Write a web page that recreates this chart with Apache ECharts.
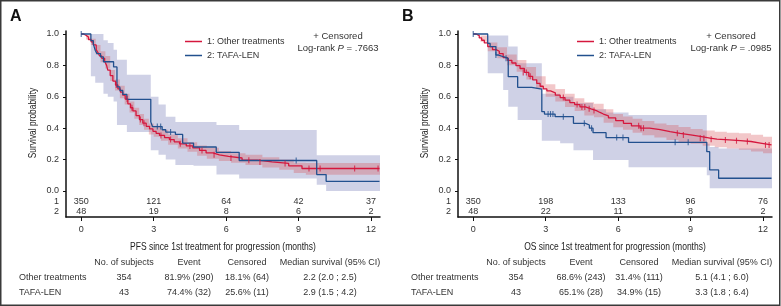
<!DOCTYPE html>
<html>
<head>
<meta charset="utf-8">
<script src="https://cdn.jsdelivr.net/npm/echarts@6/dist/echarts.min.js"></script>
<style>
html, body { margin: 0; padding: 0; background: #fff; }
#chart { width: 781px; height: 306px; }
</style>
</head>
<body>
<div id="chart"></div>
<script>
// values
var xTicks = [0, 3, 6, 9, 12];
var yTicks = [0, 0.2, 0.4, 0.6, 0.8, 1.0];
var tEnd = 12.35;

var riskA1 = [350, 121, 64, 42, 37];
var riskA2 = [48, 19, 8, 6, 2];
var riskB1 = [350, 198, 133, 96, 76];
var riskB2 = [48, 22, 11, 8, 2];

// panel A: PFS, [time, survival]
var pfsOther = [[0,1],[0.1,0.99],[0.21,0.98],[0.3,0.965],[0.41,0.95],[0.5,0.93],[0.62,0.9],[0.7,0.88],[0.76,0.86],[0.85,0.845],[0.97,0.826],[1.05,0.8],[1.1,0.77],[1.2,0.735],[1.31,0.7],[1.42,0.675],[1.52,0.65],[1.62,0.63],[1.72,0.61],[1.82,0.585],[1.93,0.555],[2.04,0.53],[2.14,0.51],[2.27,0.48],[2.41,0.455],[2.55,0.432],[2.69,0.412],[2.83,0.395],[2.97,0.38],[3.1,0.367],[3.24,0.354],[3.45,0.34],[3.65,0.327],[3.85,0.313],[4.07,0.3],[4.35,0.287],[4.62,0.274],[4.9,0.258],[5.17,0.242],[5.45,0.23],[5.72,0.22],[6.1,0.21],[6.66,0.196],[7.3,0.185],[7.9,0.175],[8.59,0.16],[9.14,0.143]];
// [time, lower, upper]
var pfsOtherBand = [[0,1,1],[0.2,0.965,0.995],[0.4,0.93,0.97],[0.6,0.87,0.93],[0.8,0.82,0.89],[1.0,0.78,0.86],[1.2,0.7,0.77],[1.4,0.64,0.71],[1.6,0.59,0.67],[1.8,0.55,0.62],[2.0,0.5,0.57],[2.2,0.46,0.53],[2.4,0.42,0.49],[2.6,0.39,0.46],[2.8,0.36,0.43],[3.0,0.345,0.415],[3.3,0.32,0.39],[3.6,0.295,0.36],[4.0,0.27,0.335],[4.4,0.25,0.31],[4.8,0.225,0.29],[5.2,0.205,0.275],[5.7,0.19,0.255],[6.2,0.18,0.24],[6.8,0.165,0.23],[7.5,0.15,0.215],[8.2,0.135,0.2],[8.8,0.115,0.18],[9.3,0.103,0.178]];
var pfsOtherCens = [[1.45,0.675],[1.9,0.585],[2.1,0.53],[2.45,0.455],[2.6,0.432],[3.3,0.354],[3.7,0.327],[4.1,0.3],[4.5,0.287],[5.0,0.258],[5.5,0.23],[6.2,0.21],[6.94,0.196],[7.4,0.185],[8.44,0.175],[9.43,0.143],[9.89,0.143],[11.32,0.143],[12.29,0.143]];

var pfsTafa = [[0,1],[0.4,0.958],[0.5,0.937],[0.58,0.896],[0.65,0.875],[0.8,0.854],[0.92,0.823],[1.34,0.79],[1.48,0.663],[1.6,0.64],[1.72,0.615],[1.89,0.584],[2.88,0.44],[2.95,0.41],[3.35,0.39],[3.5,0.375],[3.9,0.36],[4.2,0.305],[4.65,0.28],[5.59,0.246],[6.54,0.194],[9.75,0.104],[10.14,0.061]];
var pfsTafaBand = [[0.4,0.73,1.0],[0.58,0.69,1.0],[0.92,0.62,0.96],[1.1,0.6,0.942],[1.34,0.57,0.9],[1.48,0.42,0.836],[1.89,0.375,0.74],[2.88,0.26,0.6],[3.2,0.23,0.55],[3.5,0.2,0.473],[3.9,0.165,0.44],[4.65,0.16,0.44],[5.6,0.104,0.42],[6.54,0.08,0.388],[9.75,0.04,0.228],[10.14,0,0.228]];
var pfsTafaCens = [[0,1],[3.15,0.41],[3.29,0.41],[3.7,0.375],[8.9,0.194]];

// panel B: OS
var osOther = [[0,1],[0.12,0.99],[0.25,0.975],[0.35,0.96],[0.46,0.943],[0.6,0.92],[0.8,0.9],[0.95,0.89],[1.08,0.875],[1.24,0.85],[1.42,0.832],[1.6,0.815],[1.77,0.798],[1.94,0.78],[2.12,0.755],[2.3,0.73],[2.46,0.708],[2.63,0.685],[2.77,0.667],[2.9,0.65],[3.05,0.637],[3.2,0.625],[3.4,0.61],[3.6,0.595],[3.8,0.578],[4.0,0.563],[4.2,0.55],[4.42,0.535],[4.65,0.523],[4.88,0.512],[5.1,0.5],[5.25,0.49],[5.39,0.478],[5.6,0.465],[5.9,0.448],[6.22,0.431],[6.55,0.415],[6.91,0.4],[7.3,0.39],[7.74,0.378],[8.15,0.367],[8.57,0.357],[9.0,0.347],[9.4,0.336],[9.8,0.33],[10.09,0.325],[10.6,0.32],[11.06,0.315],[11.5,0.305],[11.89,0.293]];
var osOtherBand = [[0,1,1],[0.3,0.95,0.99],[0.6,0.89,0.945],[1.0,0.845,0.915],[1.4,0.8,0.87],[1.8,0.76,0.835],[2.2,0.71,0.79],[2.6,0.65,0.73],[3.0,0.6,0.68],[3.4,0.57,0.65],[3.8,0.535,0.62],[4.2,0.51,0.59],[4.6,0.48,0.565],[5.0,0.47,0.555],[5.4,0.435,0.52],[5.8,0.405,0.49],[6.2,0.39,0.475],[6.6,0.37,0.46],[7.0,0.355,0.445],[7.5,0.34,0.43],[8.0,0.325,0.42],[8.5,0.312,0.408],[9.0,0.3,0.395],[9.5,0.288,0.385],[10.0,0.278,0.377],[10.5,0.27,0.37],[11.0,0.263,0.367],[11.5,0.252,0.358],[12.0,0.24,0.346]];
var osOtherCens = [[2.07,0.755],[2.2,0.755],[2.36,0.73],[3.73,0.595],[4.3,0.55],[4.5,0.535],[4.62,0.535],[4.8,0.523],[5.0,0.512],[6.85,0.415],[6.95,0.4],[7.05,0.4],[8.45,0.367],[8.7,0.357],[9.4,0.336],[9.55,0.336],[9.85,0.33],[10.44,0.325],[10.9,0.32],[11.35,0.315],[12.1,0.293],[12.25,0.293]];

var osTafa = [[0,1],[0.6,0.94],[0.7,0.92],[0.94,0.866],[1.05,0.855],[1.25,0.845],[1.45,0.728],[1.84,0.66],[2.42,0.648],[2.84,0.505],[2.95,0.49],[3.39,0.473],[4.15,0.431],[4.65,0.42],[4.81,0.4],[4.96,0.371],[5.5,0.34],[6.43,0.31],[9.67,0.25],[9.79,0.134],[10.16,0.081]];
var osTafaBand = [[0.6,0.75,0.99],[1.24,0.643,0.99],[1.45,0.537,0.92],[1.84,0.452,0.813],[2.84,0.32,0.62],[3.6,0.304,0.6],[4.15,0.26,0.56],[4.96,0.197,0.52],[5.5,0.197,0.5],[6.43,0.151,0.484],[9.67,0.1,0.3],[9.79,0.017,0.28],[10.16,0.017,0.27]];
var osTafaCens = [[0,1],[0.94,0.866],[1.36,0.845],[3.1,0.49],[3.2,0.49],[3.3,0.49],[3.73,0.473],[4.6,0.431],[4.9,0.4],[5.94,0.34],[6.2,0.34],[8.36,0.31],[8.9,0.31]];

var groupNames = ['1: Other treatments', '2: TAFA-LEN'];
var yTitle = 'Survival probability';
var xTitles = ['PFS since 1st treatment for progression (months)', 'OS since 1st treatment for progression (months)'];
var pValues = ['.7663', '.0985'];
var tableHead = ['No. of subjects', 'Event', 'Censored', 'Median survival (95% CI)'];
var tableA = [['Other treatments', '354', '81.9% (290)', '18.1% (64)', '2.2 (2.0 ; 2.5)'],
              ['TAFA-LEN', '43', '74.4% (32)', '25.6% (11)', '2.9 (1.5 ; 4.2)']];
var tableB = [['Other treatments', '354', '68.6% (243)', '31.4% (111)', '5.1 (4.1 ; 6.0)'],
              ['TAFA-LEN', '43', '65.1% (28)', '34.9% (15)', '3.3 (1.8 ; 6.4)']];

var RED = '#d5173d', BLUE = '#22508e';
var FONT = 'Liberation Sans, Arial, sans-serif';
var ROW1 = -0.068, ROW2 = -0.132;

function withEnd(pts) {
  return pts.concat([[tEnd, pts[pts.length - 1][1]]]);
}

function band(rows, idx, color) {
  return {
    type: 'custom', xAxisIndex: idx, yAxisIndex: idx, silent: true, z: 1, clip: true,
    data: [[0, 0]],
    renderItem: function (params, api) {
      var up = [], lo = [];
      for (var i = 0; i < rows.length; i++) {
        var t0 = rows[i][0];
        var t1 = i + 1 < rows.length ? rows[i + 1][0] : tEnd + 0.02;
        up.push(api.coord([t0, rows[i][2]]), api.coord([t1, rows[i][2]]));
        lo.push(api.coord([t0, rows[i][1]]), api.coord([t1, rows[i][1]]));
      }
      return { type: 'polygon', shape: { points: up.concat(lo.reverse()) }, style: { fill: color } };
    }
  };
}

function kmLine(name, pts, idx, color) {
  return {
    name: name, type: 'line', xAxisIndex: idx, yAxisIndex: idx, step: 'end',
    symbol: 'none', z: 3, silent: true,
    lineStyle: { color: color, width: 1.3 }, itemStyle: { color: color },
    data: withEnd(pts)
  };
}

function censors(pts, idx, color) {
  return {
    type: 'scatter', xAxisIndex: idx, yAxisIndex: idx, symbol: 'rect', symbolSize: [1.1, 6],
    z: 4, silent: true, itemStyle: { color: color }, data: pts
  };
}

function atRisk(r1, r2, idx) {
  var d = [];
  for (var i = 0; i < xTicks.length; i++) {
    d.push([xTicks[i], ROW1, r1[i]]);
    d.push([xTicks[i], ROW2, r2[i]]);
  }
  return {
    type: 'custom', xAxisIndex: idx, yAxisIndex: idx, silent: true, z: 5, data: d,
    renderItem: function (params, api) {
      var p = api.coord([api.value(0), api.value(1)]);
      return { type: 'text', x: p[0], y: p[1],
        style: { text: String(api.value(2)), fontSize: 9, fontFamily: FONT, fill: '#333',
                 align: 'center', verticalAlign: 'middle' } };
    }
  };
}

var grids = [{ left: 66, top: 31, width: 314, height: 186 },
             { left: 458, top: 31, width: 314, height: 186 }];

function xAxis(idx) {
  return {
    gridIndex: idx, type: 'value', min: -0.63, max: 12.37,
    axisLine: { onZero: false, lineStyle: { color: '#111', width: 1.5 } },
    axisTick: { length: 4, customValues: xTicks, lineStyle: { color: '#111' } },
    axisLabel: { customValues: xTicks, fontSize: 9, fontFamily: FONT, color: '#333', margin: 8 },
    splitLine: { show: false }
  };
}

function yAxis(idx) {
  return {
    gridIndex: idx, type: 'value', min: -0.166, max: 1.019,
    axisLine: { show: true, onZero: false, lineStyle: { color: '#111', width: 1.5 } },
    axisTick: { show: true, length: 3, customValues: yTicks, lineStyle: { color: '#111' } },
    axisLabel: {
      customValues: [ROW2, ROW1].concat(yTicks), fontSize: 9, fontFamily: FONT, color: '#333', margin: 7,
      formatter: function (v) {
        if (Math.abs(v - ROW1) < 0.001) return '1';
        if (Math.abs(v - ROW2) < 0.001) return '2';
        return v.toFixed(1);
      }
    },
    splitLine: { show: false }
  };
}

var graphics = [
  { type: 'rect', shape: { x: 0.75, y: 0.75, width: 779, height: 304.5 },
    style: { fill: 'none', stroke: '#3a3a3a', lineWidth: 1.5 }, silent: true },
  { type: 'text', x: 10, y: 9, style: { text: 'A', fontSize: 16, fontWeight: 'bold', fontFamily: FONT, fill: '#111' } },
  { type: 'text', x: 402, y: 9, style: { text: 'B', fontSize: 16, fontWeight: 'bold', fontFamily: FONT, fill: '#111' } }
];

[0, 1].forEach(function (idx) {
  var dx = idx * 392;
  var cx = [338, 731][idx];
  // condensed axis titles
  graphics.push({ type: 'text', x: 223 + dx, y: 247, scaleX: 0.74,
    style: { text: xTitles[idx], fontSize: 11.5, fontFamily: FONT, fill: '#222', align: 'center', verticalAlign: 'middle' } });
  graphics.push({ type: 'text', x: 33 + dx, y: 123, rotation: Math.PI / 2, scaleX: 0.8,
    style: { text: yTitle, fontSize: 10.5, fontFamily: FONT, fill: '#222', align: 'center', verticalAlign: 'middle' } });
  graphics.push({ type: 'text', x: cx, y: 36, style: { text: '+ Censored', fontSize: 9.5, fontFamily: FONT, fill: '#333', align: 'center', verticalAlign: 'middle' } });
  graphics.push({ type: 'text', x: cx, y: 48, style: {
    text: 'Log-rank {i|P} = ' + pValues[idx], fontSize: 9.5, fontFamily: FONT, fill: '#333', align: 'center', verticalAlign: 'middle',
    rich: { i: { fontStyle: 'italic', fontSize: 9.5, fontFamily: FONT, fill: '#333' } } } });
  var cols = [124, 189, 247, 330];
  tableHead.forEach(function (h, j) {
    graphics.push({ type: 'text', x: cols[j] + dx, y: 263, style: { text: h, fontSize: 9, fontFamily: FONT, fill: '#333', align: 'center', verticalAlign: 'middle' } });
  });
  var rows = idx === 0 ? tableA : tableB;
  rows.forEach(function (r, k) {
    var y = 278 + k * 15;
    graphics.push({ type: 'text', x: 19 + dx, y: y, style: { text: r[0], fontSize: 9, fontFamily: FONT, fill: '#333', align: 'left', verticalAlign: 'middle' } });
    for (var j = 1; j < r.length; j++) {
      graphics.push({ type: 'text', x: cols[j - 1] + dx, y: y, style: { text: r[j], fontSize: 9, fontFamily: FONT, fill: '#333', align: 'center', verticalAlign: 'middle' } });
    }
  });
});

var legendBase = {
  orient: 'vertical', top: 36, padding: 0, icon: 'rect', itemWidth: 17, itemHeight: 1.5, itemGap: 3, selectedMode: false,
  data: groupNames, textStyle: { fontSize: 9, fontFamily: FONT, color: '#333', lineHeight: 11 }
};

var option = {
  animation: false,
  backgroundColor: '#fff',
  grid: grids,
  legend: [Object.assign({ left: 185 }, legendBase), Object.assign({ left: 577 }, legendBase)],
  xAxis: [xAxis(0), xAxis(1)],
  yAxis: [yAxis(0), yAxis(1)],
  graphic: graphics,
  series: [
    band(pfsTafaBand, 0, 'rgba(140,146,196,0.42)'),
    band(pfsOtherBand, 0, 'rgba(214,80,86,0.32)'),
    kmLine(groupNames[0], pfsOther, 0, RED),
    kmLine(groupNames[1], pfsTafa, 0, BLUE),
    censors(pfsOtherCens, 0, RED),
    censors(pfsTafaCens, 0, BLUE),
    atRisk(riskA1, riskA2, 0),
    band(osTafaBand, 1, 'rgba(140,146,196,0.42)'),
    band(osOtherBand, 1, 'rgba(214,80,86,0.32)'),
    kmLine(groupNames[0], osOther, 1, RED),
    kmLine(groupNames[1], osTafa, 1, BLUE),
    censors(osOtherCens, 1, RED),
    censors(osTafaCens, 1, BLUE),
    atRisk(riskB1, riskB2, 1)
  ]
};

var chart = echarts.init(document.getElementById('chart'));
chart.setOption(option);
</script>
</body>
</html>
